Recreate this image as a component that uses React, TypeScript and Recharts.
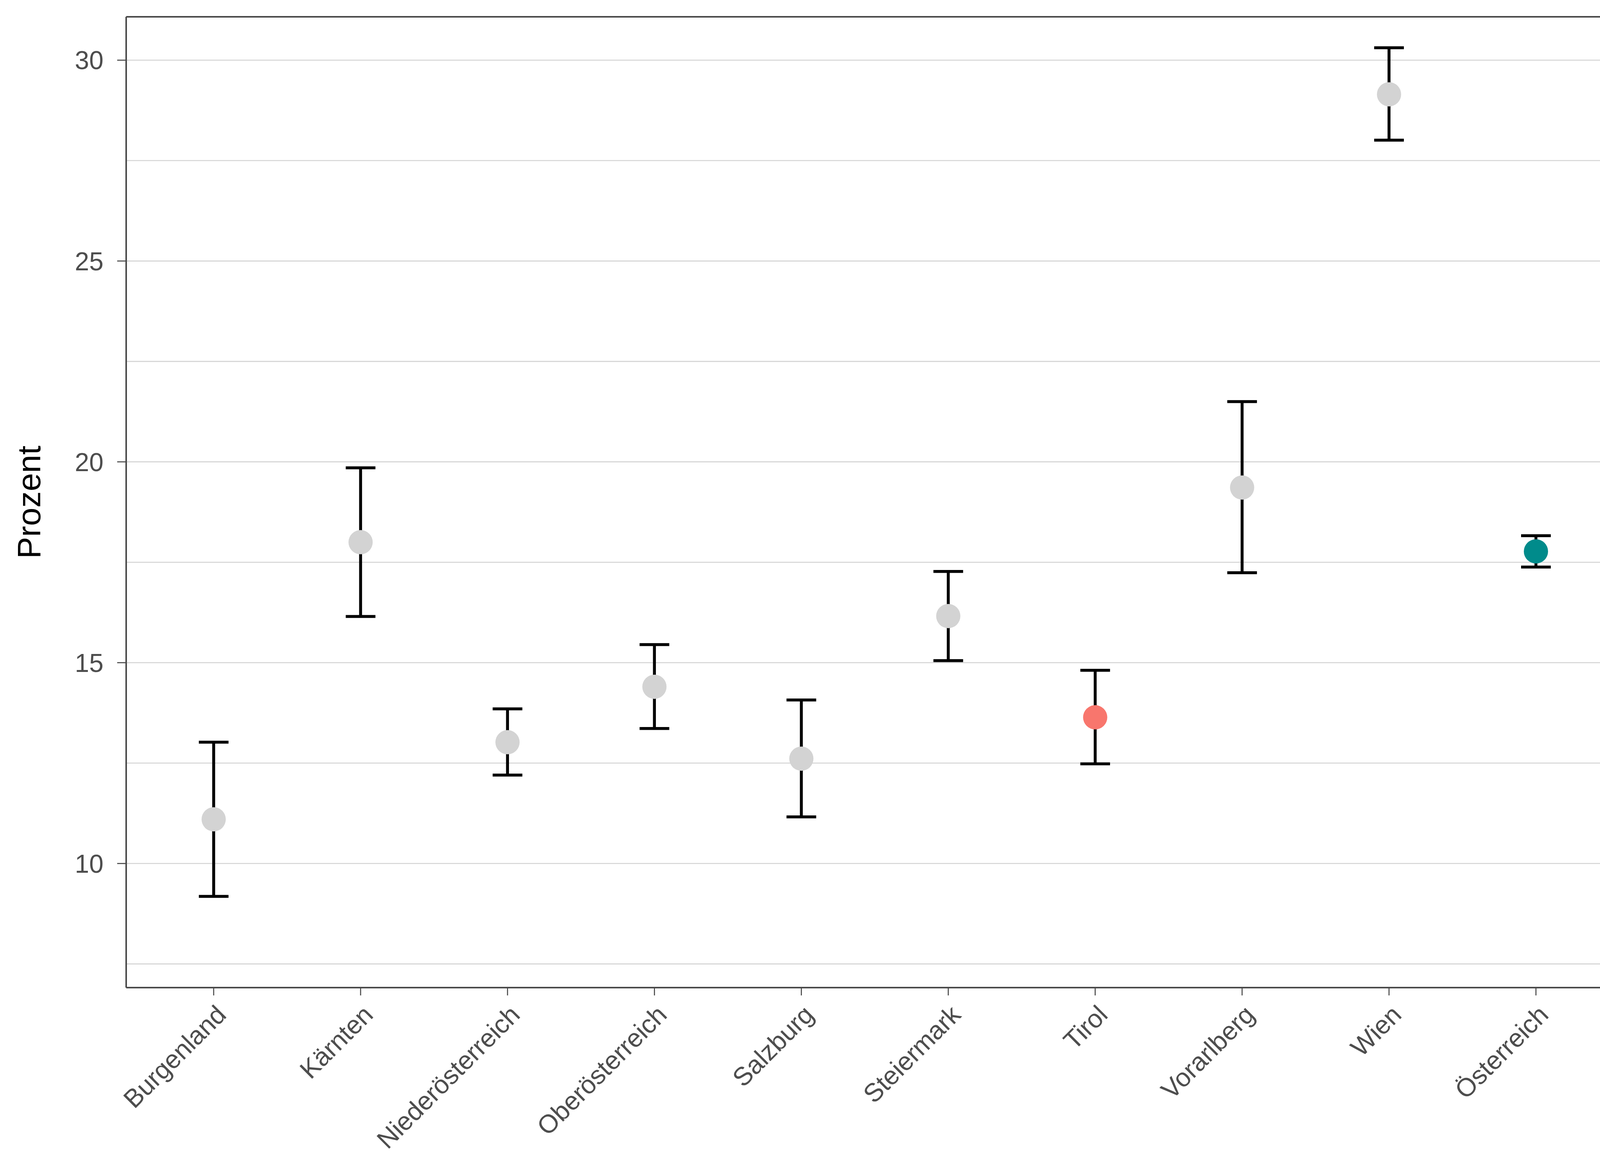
import { ComposedChart, Scatter, ErrorBar, XAxis, YAxis, ReferenceLine } from 'recharts';

const regions = [
  'Burgenland',
  'Kärnten',
  'Niederösterreich',
  'Oberösterreich',
  'Salzburg',
  'Steiermark',
  'Tirol',
  'Vorarlberg',
  'Wien',
  'Österreich',
];
const shares = [11.1, 18.0, 13.02, 14.4, 12.61, 16.16, 13.64, 19.36, 29.15, 17.77];
const lowerBounds = [9.18, 16.15, 12.2, 13.36, 11.16, 15.05, 12.48, 17.24, 28.01, 17.38];
const upperBounds = [13.02, 19.85, 13.85, 15.45, 14.07, 17.27, 14.81, 21.5, 30.31, 18.16];
const yTicks = [10, 15, 20, 25, 30];
const gridValues = [7.5, 10, 12.5, 15, 17.5, 20, 22.5, 25, 27.5, 30];

const data = regions.map((name, i) => ({
  name,
  value: shares[i],
  err: [shares[i] - lowerBounds[i], upperBounds[i] - shares[i]],
}));

const FONT = '"Liberation Sans", Arial, Helvetica, sans-serif';
const TEXT = '#4d4d4d';
const BORDER = '#4a4a4a';
const Y_DOMAIN: [number, number] = [6.91, 31.08];

const pointColor = (name: string) => {
  if (name === 'Tirol') return '#F8766D';
  if (name === 'Österreich') return '#008B8B';
  return '#D3D3D3';
};

const XTick = ({ x, y, payload }: any) => (
  <text
    x={x + 2}
    y={y}
    dy="0.72em"
    transform={`rotate(-45, ${x + 2}, ${y})`}
    textAnchor="end"
    fill={TEXT}
    fontSize={66}
    fontFamily={FONT}
  >
    {payload.value}
  </text>
);

const Dot = (props: any) => {
  const { cx, cy, payload } = props;
  return <circle cx={cx} cy={cy} r={31} fill={pointColor(payload.name)} />;
};

const YTitle = ({ viewBox }: any) => {
  const x = viewBox.x + 103;
  const y = viewBox.y + viewBox.height / 2;
  return (
    <text
      x={x}
      y={y}
      transform={`rotate(-90, ${x}, ${y})`}
      textAnchor="middle"
      fill="#000"
      fontSize={84}
      fontFamily={FONT}
    >
      Prozent
    </text>
  );
};

export default function App() {
  return (
    <div style={{ width: 4200, height: 3000, background: '#fff' }}>
      <style>{'body{margin:0}'}</style>
      <ComposedChart
        width={4200}
        height={3000}
        data={data}
        margin={{ top: 43, right: 43, bottom: 0, left: 0 }}
      >
        <XAxis
          dataKey="name"
          type="category"
          interval={0}
          padding={{ left: 224, right: 224 }}
          axisLine={{ stroke: BORDER, strokeWidth: 4 }}
          tickLine={{ stroke: BORDER, strokeWidth: 2.7 }}
          tickSize={20}
          tickMargin={20}
          height={472}
          tick={<XTick />}
        />
        <YAxis
          type="number"
          domain={Y_DOMAIN}
          ticks={yTicks}
          allowDataOverflow
          width={323}
          axisLine={{ stroke: BORDER, strokeWidth: 4 }}
          tickLine={{ stroke: BORDER, strokeWidth: 2.7 }}
          tickSize={23}
          tickMargin={35}
          tick={{ fill: TEXT, fontSize: 66, fontFamily: FONT }}
          label={<YTitle />}
        />
        <YAxis
          yAxisId="frame"
          orientation="right"
          type="number"
          domain={Y_DOMAIN}
          allowDataOverflow
          width={1}
          tick={false}
          tickLine={false}
          axisLine={{ stroke: BORDER, strokeWidth: 4 }}
        />
        {gridValues.map((v) => (
          <ReferenceLine key={v} y={v} stroke="#d4d4d4" strokeWidth={2.6} />
        ))}
        <ReferenceLine y={Y_DOMAIN[1]} stroke={BORDER} strokeWidth={4} ifOverflow="visible" />
        <Scatter dataKey="value" shape={<Dot />} isAnimationActive={false}>
          <ErrorBar
            dataKey="err"
            direction="y"
            width={38}
            stroke="#000"
            strokeWidth={7.5}
            isAnimationActive={false}
          />
        </Scatter>
      </ComposedChart>
    </div>
  );
}
